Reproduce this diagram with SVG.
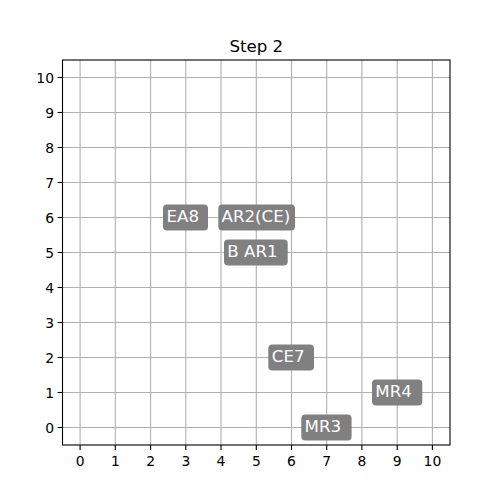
<svg xmlns="http://www.w3.org/2000/svg" width="500" height="500" viewBox="0 0 500 500">
<style>
.grid line{stroke:#b0b0b0;stroke-width:1.1}
.tick line{stroke:#000;stroke-width:1.1}
.tl{font-family:"DejaVu Sans",sans-serif;font-size:13.9px;fill:#000}
.title{font-family:"DejaVu Sans",sans-serif;font-size:16.67px;fill:#000}
.box{fill:#808080}
.lbl{font-family:"DejaVu Sans",sans-serif;font-size:16.67px;fill:#fff;text-anchor:start}
</style>
<rect width="500" height="500" fill="#fff"/>
<g class="grid">
<line x1="80.1" y1="60" x2="80.1" y2="445"/>
<line x1="115.3" y1="60" x2="115.3" y2="445"/>
<line x1="150.6" y1="60" x2="150.6" y2="445"/>
<line x1="185.8" y1="60" x2="185.8" y2="445"/>
<line x1="221.0" y1="60" x2="221.0" y2="445"/>
<line x1="256.3" y1="60" x2="256.3" y2="445"/>
<line x1="291.5" y1="60" x2="291.5" y2="445"/>
<line x1="326.7" y1="60" x2="326.7" y2="445"/>
<line x1="361.9" y1="60" x2="361.9" y2="445"/>
<line x1="397.2" y1="60" x2="397.2" y2="445"/>
<line x1="432.4" y1="60" x2="432.4" y2="445"/>
<line x1="62.5" y1="427.5" x2="450" y2="427.5"/>
<line x1="62.5" y1="392.5" x2="450" y2="392.5"/>
<line x1="62.5" y1="357.5" x2="450" y2="357.5"/>
<line x1="62.5" y1="322.5" x2="450" y2="322.5"/>
<line x1="62.5" y1="287.5" x2="450" y2="287.5"/>
<line x1="62.5" y1="252.5" x2="450" y2="252.5"/>
<line x1="62.5" y1="217.5" x2="450" y2="217.5"/>
<line x1="62.5" y1="182.5" x2="450" y2="182.5"/>
<line x1="62.5" y1="147.5" x2="450" y2="147.5"/>
<line x1="62.5" y1="112.5" x2="450" y2="112.5"/>
<line x1="62.5" y1="77.5" x2="450" y2="77.5"/>
</g>
<g class="tick">
<line x1="80.1" y1="445" x2="80.1" y2="449.9"/>
<line x1="115.3" y1="445" x2="115.3" y2="449.9"/>
<line x1="150.6" y1="445" x2="150.6" y2="449.9"/>
<line x1="185.8" y1="445" x2="185.8" y2="449.9"/>
<line x1="221.0" y1="445" x2="221.0" y2="449.9"/>
<line x1="256.3" y1="445" x2="256.3" y2="449.9"/>
<line x1="291.5" y1="445" x2="291.5" y2="449.9"/>
<line x1="326.7" y1="445" x2="326.7" y2="449.9"/>
<line x1="361.9" y1="445" x2="361.9" y2="449.9"/>
<line x1="397.2" y1="445" x2="397.2" y2="449.9"/>
<line x1="432.4" y1="445" x2="432.4" y2="449.9"/>
<line x1="57.6" y1="427.5" x2="62.5" y2="427.5"/>
<line x1="57.6" y1="392.5" x2="62.5" y2="392.5"/>
<line x1="57.6" y1="357.5" x2="62.5" y2="357.5"/>
<line x1="57.6" y1="322.5" x2="62.5" y2="322.5"/>
<line x1="57.6" y1="287.5" x2="62.5" y2="287.5"/>
<line x1="57.6" y1="252.5" x2="62.5" y2="252.5"/>
<line x1="57.6" y1="217.5" x2="62.5" y2="217.5"/>
<line x1="57.6" y1="182.5" x2="62.5" y2="182.5"/>
<line x1="57.6" y1="147.5" x2="62.5" y2="147.5"/>
<line x1="57.6" y1="112.5" x2="62.5" y2="112.5"/>
<line x1="57.6" y1="77.5" x2="62.5" y2="77.5"/>
</g>
<g class="tl" text-anchor="middle">
<text x="80.1" y="465.7">0</text>
<text x="115.3" y="465.7">1</text>
<text x="150.6" y="465.7">2</text>
<text x="185.8" y="465.7">3</text>
<text x="221.0" y="465.7">4</text>
<text x="256.3" y="465.7">5</text>
<text x="291.5" y="465.7">6</text>
<text x="326.7" y="465.7">7</text>
<text x="361.9" y="465.7">8</text>
<text x="397.2" y="465.7">9</text>
<text x="432.4" y="465.7">10</text>
</g>
<g class="tl" text-anchor="end">
<text x="54" y="432.6">0</text>
<text x="54" y="397.6">1</text>
<text x="54" y="362.6">2</text>
<text x="54" y="327.6">3</text>
<text x="54" y="292.6">4</text>
<text x="54" y="257.6">5</text>
<text x="54" y="222.6">6</text>
<text x="54" y="187.6">7</text>
<text x="54" y="152.6">8</text>
<text x="54" y="117.6">9</text>
<text x="54" y="82.6">10</text>
</g>
<rect x="62.5" y="60" width="387.5" height="385" fill="none" stroke="#000" stroke-width="1.1"/>
<text class="title" x="256.3" y="52" text-anchor="middle">Step 2</text>
<g id="EA8"><rect class="box" x="163" y="204.5" width="45" height="26" rx="4"/><text class="lbl" x="166.5" y="222.2">EA8</text></g>
<g id="AR2CE"><rect class="box" x="218.3" y="204.5" width="76.7" height="26" rx="4"/><text class="lbl" x="221.5" y="222.2">AR2(CE)</text></g>
<g id="BAR1"><rect class="box" x="224" y="239.5" width="63.7" height="26" rx="4"/><text class="lbl" x="227.3" y="257.2">B AR1</text></g>
<g id="CE7"><rect class="box" x="268.3" y="344.5" width="45.7" height="26" rx="4"/><text class="lbl" x="271.8" y="362.2">CE7</text></g>
<g id="MR4"><rect class="box" x="372" y="379.5" width="50.3" height="26" rx="4"/><text class="lbl" x="375.3" y="397.2">MR4</text></g>
<g id="MR3"><rect class="box" x="301.3" y="414.5" width="50.3" height="26" rx="4"/><text class="lbl" x="304.6" y="432.2">MR3</text></g>
</svg>
